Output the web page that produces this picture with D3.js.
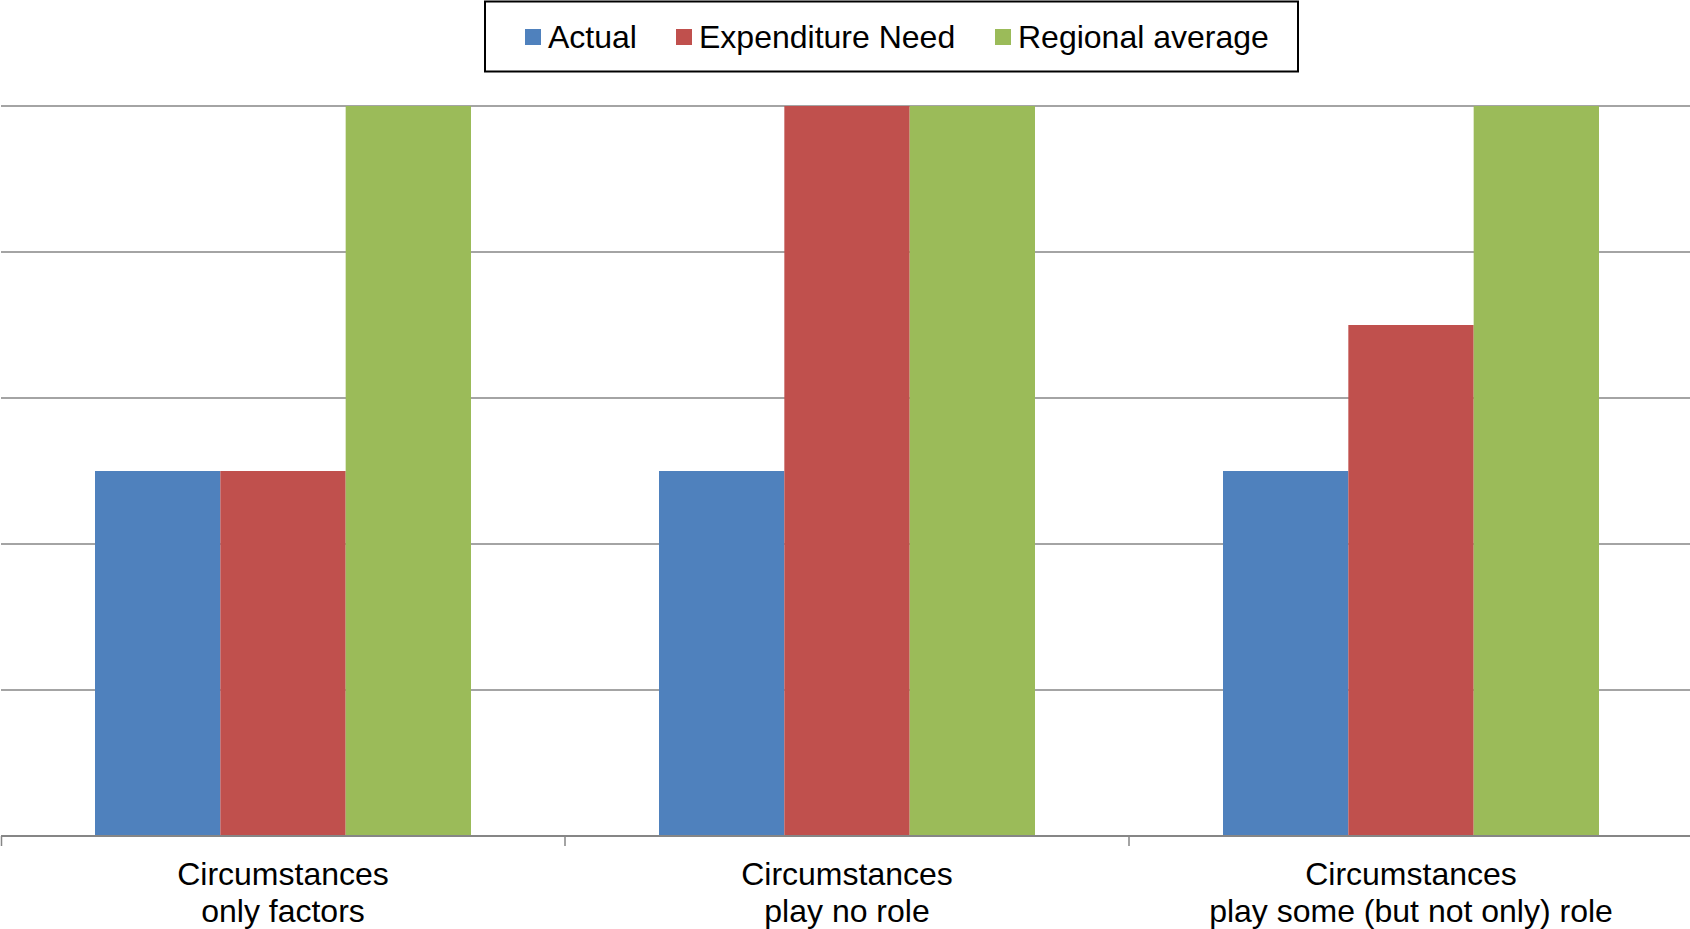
<!DOCTYPE html>
<html>
<head>
<meta charset="utf-8">
<script src="https://cdn.jsdelivr.net/npm/d3@7"></script>
<style>
  html, body { margin: 0; padding: 0; background: #fff; }
  svg { display: block; font-family: "Liberation Sans", Arial, sans-serif; }
</style>
</head>
<body>
<svg id="chart" width="1690" height="929"></svg>
<script>
// Scenario categories (two-line labels) and series values
const categories = [
  ["Circumstances", "only factors"],
  ["Circumstances", "play no role"],
  ["Circumstances", "play some (but not only) role"]
];
const seriesNames = ["Actual", "Expenditure Need", "Regional average"];
const seriesColors = ["#4F81BD", "#C0504D", "#9BBB59"];
const actual = [2.5, 2.5, 2.5];
const expenditureNeed = [2.5, 5, 3.5];
const regionalAverage = [5, 5, 5];
const yTicks = [0, 1, 2, 3, 4, 5];

const seriesValues = [actual, expenditureNeed, regionalAverage];

const svg = d3.select("#chart");
const margin = { top: 106, left: 1 };
const W = 1690;
const innerW = 1692;          // plot area runs just past the right edge
const innerH = 730;

const g = svg.append("g").attr("transform", `translate(${margin.left},${margin.top})`);

const x0 = d3.scaleBand()
  .domain(d3.range(categories.length))
  .range([0, innerW]);

// 150% gap between groups: group spans 3 bar widths out of 4.5
const x1 = d3.scaleBand()
  .domain(d3.range(seriesNames.length))
  .range([0, x0.bandwidth() * 3 / 4.5]);
const groupOffset = x0.bandwidth() * 0.75 / 4.5;

const y = d3.scaleLinear().domain([0, 5]).range([innerH, 0]);

// Horizontal gridlines
g.append("g")
  .selectAll("line")
  .data(yTicks.filter(t => t > 0))
  .join("line")
  .attr("x1", 0).attr("x2", W)
  .attr("y1", d => y(d)).attr("y2", d => y(d))
  .attr("stroke", "#868686")
  .attr("stroke-width", 1.5);

// Bars
const groups = g.append("g")
  .selectAll("g")
  .data(categories)
  .join("g")
  .attr("transform", (d, i) => `translate(${x0(i) + groupOffset},0)`);

groups.selectAll("rect")
  .data((d, i) => seriesValues.map((vals, s) => ({ s, v: vals[i] })))
  .join("rect")
  .attr("x", d => x1(d.s))
  .attr("width", x1.bandwidth())
  .attr("y", d => y(d.v))
  .attr("height", d => y(0) - y(d.v))
  .attr("fill", d => seriesColors[d.s]);

// Category axis with tick marks at band boundaries
const axis = g.append("g").attr("transform", `translate(0,${innerH})`);
axis.append("line")
  .attr("x1", 0).attr("x2", W)
  .attr("y1", 0).attr("y2", 0)
  .attr("stroke", "#868686").attr("stroke-width", 2);
axis.selectAll("line.tick")
  .data(d3.range(categories.length))
  .join("line")
  .attr("class", "tick")
  .attr("x1", i => i === 0 ? 0.5 : x0(i))
  .attr("x2", i => i === 0 ? 0.5 : x0(i))
  .attr("y1", 0).attr("y2", 10)
  .attr("stroke", "#868686").attr("stroke-width", 1.5);

const labels = axis.selectAll("text.cat")
  .data(categories)
  .join("text")
  .attr("class", "cat")
  .attr("text-anchor", "middle")
  .attr("font-size", 32)
  .attr("fill", "#000");
labels.each(function (d, i) {
  const t = d3.select(this);
  d.forEach((line, k) => {
    t.append("tspan")
      .attr("x", x0(i) + x0.bandwidth() / 2)
      .attr("y", 49 + k * 37)
      .text(line);
  });
});

// Legend
const legend = svg.append("g");
legend.append("rect")
  .attr("x", 485).attr("y", 1.5)
  .attr("width", 813).attr("height", 70)
  .attr("fill", "#fff").attr("stroke", "#000").attr("stroke-width", 2);

const legendX = [525, 676, 995];
const items = legend.selectAll("g.item")
  .data(seriesNames)
  .join("g")
  .attr("class", "item")
  .attr("transform", (d, i) => `translate(${legendX[i]},0)`);
items.append("rect")
  .attr("x", 0).attr("y", 29)
  .attr("width", 16).attr("height", 16)
  .attr("fill", (d, i) => seriesColors[i]);
items.append("text")
  .attr("x", 23).attr("y", 48)
  .attr("font-size", 32)
  .attr("fill", "#000")
  .text(d => d);
</script>
</body>
</html>
